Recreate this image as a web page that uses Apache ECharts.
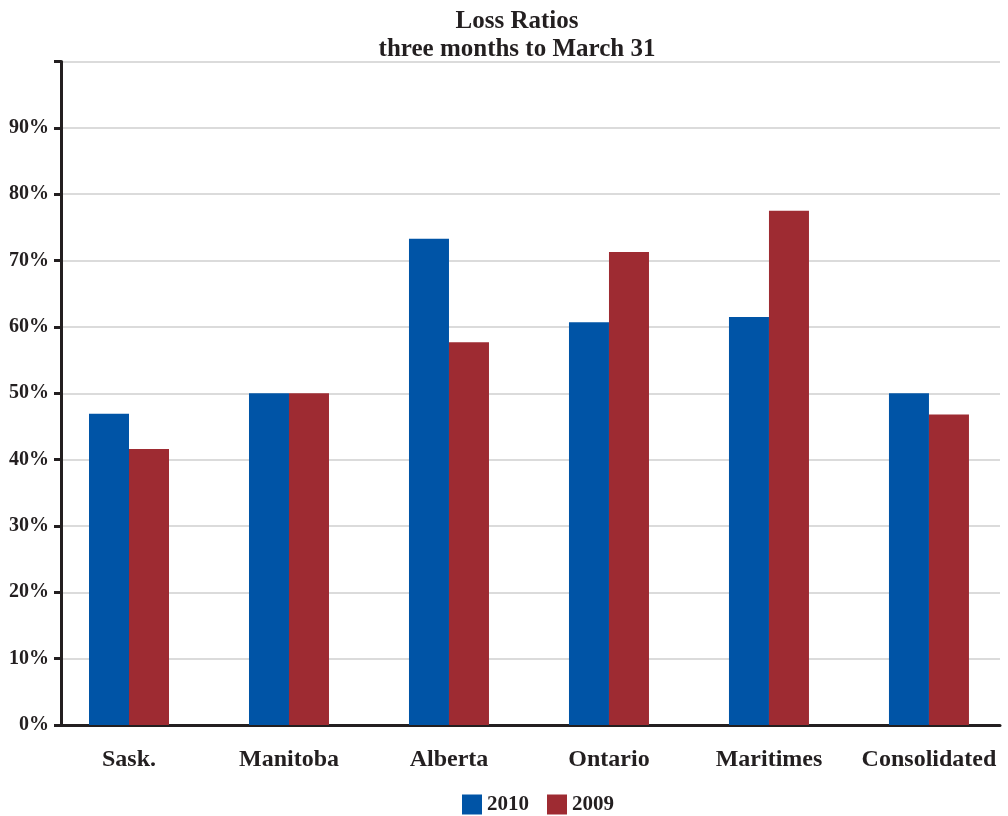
<!DOCTYPE html>
<html>
<head>
<meta charset="utf-8">
<script src="https://cdn.jsdelivr.net/npm/echarts@6/dist/echarts.min.js"></script>
<style>
  html, body { margin: 0; padding: 0; background: #ffffff; }
  #chart { width: 1008px; height: 816px; }
</style>
</head>
<body>
<div id="chart"></div>
<script>
// Loss ratios by region, three months to March 31 (percent)
const categories = ['Sask.', 'Manitoba', 'Alberta', 'Ontario', 'Maritimes', 'Consolidated'];
const series2010 = [46.9, 50.0, 73.3, 60.7, 61.5, 50.0];
const series2009 = [41.6, 50.0, 57.7, 71.3, 77.5, 46.8];
const yTicks = [0, 10, 20, 30, 40, 50, 60, 70, 80, 90, 100];

const FONT = '"Liberation Serif", "DejaVu Serif", serif';
const INK = '#231f20';
const BLUE = '#0054a6';
const RED = '#9e2b32';

// Categories sit at integer positions on a numeric x axis so the axis
// can extend a little unevenly on both sides of the first and last group.
const toPairs = vals => vals.map((v, i) => [i, v]);

const chart = echarts.init(document.getElementById('chart'), null, { renderer: 'canvas' });

chart.setOption({
  backgroundColor: '#ffffff',
  animation: false,
  title: {
    text: 'Loss Ratios\nthree months to March 31',
    left: 512,
    top: 3,
    textAlign: 'center',
    textStyle: {
      fontFamily: FONT,
      fontWeight: 'bold',
      fontSize: 25,
      lineHeight: 28,
      color: INK
    }
  },
  legend: {
    left: 457,
    bottom: -4,
    itemWidth: 20,
    itemHeight: 20,
    itemGap: 18,
    icon: 'rect',
    textStyle: {
      fontFamily: FONT,
      fontWeight: 'bold',
      fontSize: 21,
      color: INK
    },
    data: ['2010', '2009']
  },
  grid: {
    left: 61,
    right: 8,
    top: 61.5,
    bottom: 91,
    containLabel: false
  },
  xAxis: {
    type: 'value',
    min: -0.425,
    max: 5.444,
    splitLine: { show: false },
    axisTick: { show: false },
    axisLine: { show: true, onZero: false, lineStyle: { color: INK, width: 3 } },
    axisLabel: {
      customValues: categories.map((c, i) => i),
      formatter: v => categories[Math.round(v)] || '',
      margin: 23,
      fontFamily: FONT,
      fontWeight: 'bold',
      fontSize: 24,
      color: INK
    }
  },
  yAxis: {
    type: 'value',
    min: yTicks[0],
    max: yTicks[yTicks.length - 1],
    interval: 10,
    axisLine: { show: true, onZero: false, lineStyle: { color: INK, width: 3 } },
    axisTick: { show: true, length: 7, lineStyle: { color: INK, width: 3 } },
    splitLine: { show: true, lineStyle: { color: '#cfcfcf', width: 1.5 } },
    axisLabel: {
      margin: 12,
      fontFamily: FONT,
      fontWeight: 'bold',
      fontSize: 20,
      color: INK,
      formatter: v => (v >= 100 ? '' : v + '%')
    }
  },
  series: [
    {
      name: '2010',
      type: 'bar',
      data: toPairs(series2010),
      barWidth: 40,
      barGap: '0%',
      itemStyle: { color: BLUE }
    },
    {
      name: '2009',
      type: 'bar',
      data: toPairs(series2009),
      barWidth: 40,
      barGap: '0%',
      itemStyle: { color: RED }
    }
  ]
});
</script>
</body>
</html>
